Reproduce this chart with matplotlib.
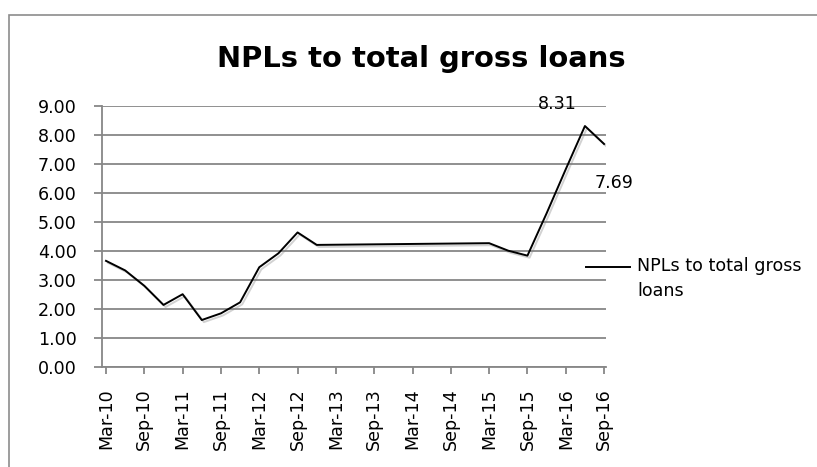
import matplotlib
matplotlib.use("Agg")
import matplotlib.pyplot as plt
import matplotlib.patheffects as pe
from matplotlib.patches import Rectangle
from matplotlib.lines import Line2D
import numpy as np

plt.rcParams['font.family'] = ['DejaVu Sans']

# quarterly observations, Mar-10 .. Sep-16 (None = no value, Excel joins the gap)
quarters = ['Mar-10', 'Jun-10', 'Sep-10', 'Dec-10',
            'Mar-11', 'Jun-11', 'Sep-11', 'Dec-11',
            'Mar-12', 'Jun-12', 'Sep-12', 'Dec-12',
            'Mar-13', 'Jun-13', 'Sep-13', 'Dec-13',
            'Mar-14', 'Jun-14', 'Sep-14', 'Dec-14',
            'Mar-15', 'Jun-15', 'Sep-15', 'Dec-15',
            'Mar-16', 'Jun-16', 'Sep-16']
npl_ratio = [3.66, 3.33, 2.80, 2.14,
             2.51, 1.62, 1.85, 2.23,
             3.44, 3.92, 4.64, 4.21,
             None, None, None, None,
             None, None, None, None,
             4.27, 4.01, 3.84, 5.30,
             6.82, 8.31, 7.69]
series_name = 'NPLs to total gross\nloans'
labelled = {'Jun-16': '8.31', 'Sep-16': '7.69'}

grid_col = '#878787'
fs = 12.6

fig = plt.figure(figsize=(8.17, 4.67), dpi=100)
ax = fig.add_axes([101.6 / 817, 1 - 367 / 467, (606 - 101.6) / 817, (367 - 106) / 467])

x = np.arange(len(quarters))
y = np.array([np.nan if v is None else v for v in npl_ratio])
ok = ~np.isnan(y)
ax.plot(x[ok], y[ok], color='black', lw=1.4,
        path_effects=[pe.SimpleLineShadow(offset=(1.5, -1.5), shadow_color='gray', alpha=0.35),
                      pe.Normal()])

# data labels
offsets = {'Jun-16': (-20, 16), 'Sep-16': (7, -28)}
for q, txt in labelled.items():
    i = quarters.index(q)
    ax.annotate(txt, (x[i], y[i]), xytext=offsets[q], textcoords='offset points',
                ha='center', va='center', fontsize=fs)

ax.set_ylim(0, 9)
ax.set_yticks(np.arange(0, 10, 1))
ax.yaxis.set_major_formatter(plt.FormatStrFormatter('%.2f'))
ax.set_xlim(-0.23, 26.1)
ax.set_xticks(x[::2])
ax.set_xticklabels(quarters[::2], rotation=90)

ax.grid(axis='y', color=grid_col, lw=1.3)
ax.set_axisbelow(True)
for side in ['top', 'right']:
    ax.spines[side].set_visible(False)
for side in ['left', 'bottom']:
    ax.spines[side].set_color(grid_col)
    ax.spines[side].set_linewidth(1.3)
ax.tick_params(axis='y', length=6, width=1.3, color=grid_col, pad=12, labelsize=fs)
ax.tick_params(axis='x', length=5, width=1.3, color=grid_col, pad=10, labelsize=fs)

# legend, handle level with the first line of the wrapped name
leg_y = 1 - 267 / 467
fig.add_artist(Line2D([586 / 817, 630 / 817], [leg_y, leg_y], color='black', lw=1.4))
fig.text(637 / 817, leg_y, series_name, ha='left', va='top', fontsize=fs,
         linespacing=1.5, transform=fig.transFigure).set_y(1 - 257 / 467)

fig.text(421.7 / 817, 1 - 66.7 / 467, 'NPLs to total gross loans', ha='center', va='baseline',
         fontsize=20.9, fontweight='bold')

# chart area border
fig.add_artist(Rectangle((9.4 / 817, -0.05), 1.2, 1.05 - 15 / 467, transform=fig.transFigure,
                         fill=False, edgecolor='#8c8c8c', lw=1.2))

fig.savefig('out.png', dpi=100)
